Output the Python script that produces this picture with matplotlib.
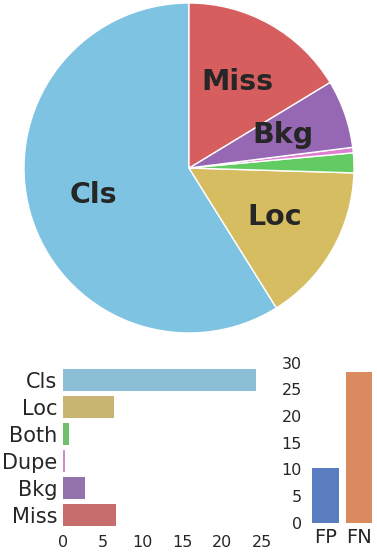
import colorsys
import matplotlib
matplotlib.use("Agg")
import matplotlib.pyplot as plt
import matplotlib.colors as mcolors

# error breakdown (dAP contribution)
error_types = ["Cls", "Loc", "Both", "Dupe", "Bkg", "Miss"]
error_values = [24.25, 6.44, 0.8, 0.22, 2.75, 6.72]
pie_labels = ["Cls", "Loc", "", "", "Bkg", "Miss"]
error_colors = ["#7EC4E2", "#D6BD62", "#62CC62", "#DE7FD2", "#9668B4", "#D65E5E"]

# false positive / false negative
fpfn_types = ["FP", "FN"]
fpfn_values = [10.3, 28.3]
fpfn_colors = ["#4878D0", "#EE854A"]

TEXT = "#262626"


def desat(c, prop=0.75):
    r, g, b = mcolors.to_rgb(c)
    h, l, s = colorsys.rgb_to_hls(r, g, b)
    return colorsys.hls_to_rgb(h, l, s * prop)


W, H = 377, 552
fig = plt.figure(figsize=(W / 100, H / 100), dpi=100)

# pie
ax_pie = fig.add_axes([24 / W, 219 / H, 330 / W, 330 / H])
wedges, texts = ax_pie.pie(error_values, colors=error_colors, labels=pie_labels,
                           startangle=90, counterclock=True, labeldistance=0.6,
                           wedgeprops=dict(edgecolor="white", linewidth=1),
                           textprops=dict(fontsize=20.5, fontweight="bold", color=TEXT))
for t in texts:
    t.set_horizontalalignment("center")
    t.set_verticalalignment("center")
ax_pie.set_xlim(-1.0, 1.0)
ax_pie.set_ylim(-1.0, 1.0)
ax_pie.set_aspect("equal")

# horizontal bars
ax_bar = fig.add_axes([63 / W, 23.5 / H, 203 / W, 162 / H])
pos = range(len(error_types))
ax_bar.barh(pos, error_values, height=0.8, color=[desat(c) for c in error_colors])
ax_bar.set_yticks(list(pos))
ax_bar.set_yticklabels(error_types, fontsize=15, color=TEXT)
ax_bar.set_xticks([0, 5, 10, 15, 20, 25])
ax_bar.tick_params(axis="x", labelsize=11.5, colors=TEXT, length=0, pad=5)
ax_bar.tick_params(axis="y", length=0, pad=4)
ax_bar.set_xlim(0, 25.5)
ax_bar.set_ylim(5.5, -0.5)
for s in ax_bar.spines.values():
    s.set_visible(False)

# FP / FN bars
ax_fp = fig.add_axes([309 / W, 29.3 / H, 66.6 / W, 162.6 / H])
ax_fp.bar(range(len(fpfn_types)), fpfn_values, width=0.8,
          color=[desat(c) for c in fpfn_colors])
ax_fp.set_xticks(range(len(fpfn_types)))
ax_fp.set_xticklabels(fpfn_types, fontsize=14, color=TEXT)
ax_fp.set_yticks([0, 5, 10, 15, 20, 25, 30])
ax_fp.tick_params(axis="y", labelsize=11.5, colors=TEXT, length=0, pad=5)
ax_fp.tick_params(axis="x", length=0, pad=4)
ax_fp.set_xlim(-0.5, 1.5)
ax_fp.set_ylim(0, 30.5)
for s in ax_fp.spines.values():
    s.set_visible(False)

fig.savefig("out.png", dpi=100)
